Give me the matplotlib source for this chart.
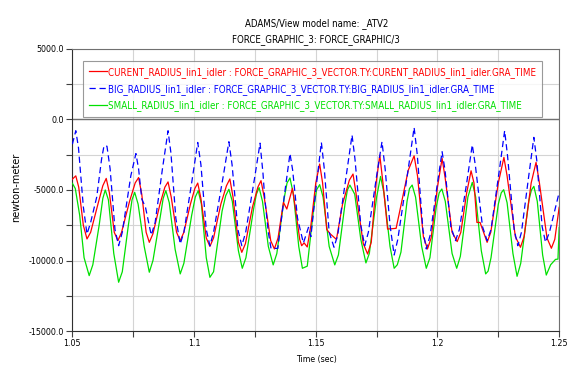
import matplotlib
matplotlib.use("Agg")
import matplotlib.pyplot as plt
from matplotlib import font_manager
from matplotlib.ticker import MultipleLocator, FormatStrFormatter

_fl = font_manager.fontManager.ttflist
_names = {f.name for f in _fl}
_cond = [f for f in _fl if f.name == 'DejaVu Sans' and 'ondensed' in f.fname and 'Bold' not in f.fname
         and 'Oblique' not in f.fname]
if 'Liberation Sans Narrow' in _names:
    plt.rcParams['font.family'] = ['Liberation Sans Narrow', 'DejaVu Sans']
    FS, LFS, TFS, YFS = 7.0, 8.0, 7.4, 8.5
elif _cond:
    plt.rcParams['font.family'] = ['DejaVu Sans']
    plt.rcParams['font.stretch'] = _cond[0].stretch
    FS, LFS, TFS, YFS = 6.3, 7.0, 6.9, 7.8
else:
    plt.rcParams['font.family'] = ['Liberation Sans', 'DejaVu Sans']
    FS, LFS, TFS, YFS = 6.3, 6.3, 6.8, 7.5

# ---- data ----
big_t = [1.0500, 1.0514, 1.0525, 1.0545, 1.0560, 1.0575, 1.0600, 1.0620, 1.0630, 1.0642,
         1.0655, 1.0675, 1.0690, 1.0705, 1.0740, 1.0761, 1.0772, 1.0785, 1.0800, 1.0824,
         1.0840, 1.0870, 1.0893, 1.0905, 1.0925, 1.0943, 1.0958, 1.0990, 1.1015, 1.1028,
         1.1050, 1.1065, 1.1080, 1.1120, 1.1143, 1.1156, 1.1180, 1.1196, 1.1212, 1.1250,
         1.1271, 1.1283, 1.1290, 1.1305, 1.1316, 1.1344, 1.1370, 1.1394, 1.1405, 1.1425,
         1.1449, 1.1470, 1.1480, 1.1500, 1.1523, 1.1535, 1.1555, 1.1575, 1.1590, 1.1625,
         1.1649, 1.1661, 1.1685, 1.1701, 1.1716, 1.1750, 1.1772, 1.1785, 1.1805, 1.1822,
         1.1837, 1.1880, 1.1904, 1.1917, 1.1940, 1.1954, 1.1970, 1.2000, 1.2019, 1.2031,
         1.2055, 1.2074, 1.2090, 1.2120, 1.2143, 1.2156, 1.2185, 1.2204, 1.2220, 1.2255,
         1.2276, 1.2288, 1.2315, 1.2330, 1.2345, 1.2375, 1.2396, 1.2408, 1.2430, 1.2444,
         1.2460, 1.2500]
big_y = [-1750, -800, -2000, -6200, -8120, -7300, -5500, -2800, -1860, -1900,
         -3500, -7800, -8950, -8000, -4000, -2420, -3500, -5640, -6200, -8200,
         -7300, -3500, -800, -2400, -7000, -8830, -8000, -4500, -1630, -3200,
         -7800, -8950, -8000, -4000, -1580, -3200, -7800, -8950, -8000, -4000,
         -1680, -3800, -5500, -8000, -9140, -9140, -5500, -2420, -3600, -7000,
         -8760, -7650, -8300, -5000, -1630, -3500, -8000, -9060, -8200, -4000,
         -1110, -2800, -7500, -8950, -8000, -4000, -1580, -3500, -7500, -9610,
         -8500, -3500, -570, -2500, -7800, -9180, -8200, -4500, -2290, -3600,
         -7600, -8590, -7800, -4500, -1800, -3300, -7600, -8590, -7800, -3500,
         -800, -2600, -7800, -8950, -8000, -4000, -1270, -2900, -7600, -8710,
         -8000, -5170]

cur_t = [1.0500, 1.0514, 1.0526, 1.0545, 1.0560, 1.0575, 1.0605, 1.0625, 1.0639, 1.0652,
         1.0672, 1.0687, 1.0702, 1.0735, 1.0758, 1.0772, 1.0785, 1.0803, 1.0816, 1.0831,
         1.0860, 1.0880, 1.0893, 1.0906, 1.0928, 1.0943, 1.0958, 1.0985, 1.1003, 1.1015,
         1.1028, 1.1050, 1.1065, 1.1080, 1.1110, 1.1133, 1.1147, 1.1160, 1.1182, 1.1196,
         1.1211, 1.1240, 1.1262, 1.1275, 1.1288, 1.1315, 1.1330, 1.1345, 1.1367, 1.1381,
         1.1404, 1.1418, 1.1434, 1.1442, 1.1452, 1.1465, 1.1480, 1.1500, 1.1516, 1.1528,
         1.1545, 1.1560, 1.1580, 1.1585, 1.1610, 1.1638, 1.1653, 1.1665, 1.1695, 1.1713,
         1.1728, 1.1748, 1.1763, 1.1776, 1.1795, 1.1830, 1.1845, 1.1880, 1.1904, 1.1918,
         1.1942, 1.1959, 1.1974, 1.2000, 1.2019, 1.2032, 1.2060, 1.2081, 1.2096, 1.2120,
         1.2138, 1.2150, 1.2162, 1.2175, 1.2204, 1.2219, 1.2250, 1.2273, 1.2286, 1.2320,
         1.2341, 1.2356, 1.2385, 1.2405, 1.2418, 1.2450, 1.2468, 1.2482, 1.2500]
cur_y = [-4230, -4000, -4800, -7500, -8470, -8000, -6000, -4700, -4180, -5200,
         -8000, -8590, -8000, -5800, -4500, -4120, -5300, -8000, -8710, -8100,
         -6000, -4800, -4430, -5500, -8000, -8590, -8000, -6000, -4900, -4510,
         -5600, -8400, -9000, -8400, -6000, -4700, -4220, -5500, -8700, -9420,
         -8800, -6200, -4800, -4340, -5500, -8600, -9180, -8400, -5880, -6350,
         -4890, -6500, -8500, -8950, -8750, -9040, -7500, -4500, -3160, -4500,
         -7800, -8120, -8430, -8500, -6000, -4300, -3870, -5200, -8800, -9540,
         -8700, -4500, -2530, -4500, -7770, -7720, -6500, -3600, -2580, -4000,
         -8300, -9180, -8400, -4800, -2760, -4200, -8000, -8660, -8000, -5200,
         -3640, -4500, -7300, -7300, -8710, -8000, -4500, -2690, -4000, -8300,
         -9060, -8300, -4500, -3040, -4400, -8400, -9130, -8500, -6230]

small_t = [1.0500, 1.0512, 1.0530, 1.0548, 1.0569, 1.0584, 1.0610, 1.0625, 1.0635, 1.0648,
           1.0670, 1.0690, 1.0705, 1.0730, 1.0745, 1.0756, 1.0770, 1.0795, 1.0816, 1.0831,
           1.0860, 1.0873, 1.0884, 1.0898, 1.0922, 1.0943, 1.0958, 1.0990, 1.1005, 1.1017,
           1.1030, 1.1050, 1.1065, 1.1080, 1.1115, 1.1130, 1.1143, 1.1157, 1.1182, 1.1198,
           1.1213, 1.1245, 1.1256, 1.1267, 1.1281, 1.1305, 1.1325, 1.1340, 1.1370, 1.1382,
           1.1394, 1.1408, 1.1430, 1.1445, 1.1465, 1.1490, 1.1503, 1.1516, 1.1530, 1.1555,
           1.1578, 1.1593, 1.1620, 1.1630, 1.1640, 1.1660, 1.1685, 1.1706, 1.1720, 1.1750,
           1.1766, 1.1780, 1.1805, 1.1822, 1.1835, 1.1850, 1.1875, 1.1885, 1.1896, 1.1910,
           1.1935, 1.1954, 1.1969, 1.1995, 1.2007, 1.2018, 1.2032, 1.2060, 1.2079, 1.2094,
           1.2125, 1.2143, 1.2157, 1.2180, 1.2198, 1.2208, 1.2220, 1.2250, 1.2262, 1.2272,
           1.2286, 1.2310, 1.2327, 1.2342, 1.2375, 1.2386, 1.2396, 1.2410, 1.2432, 1.2447,
           1.2465, 1.2485, 1.2495, 1.2500]
small_y = [-4530, -4900, -6800, -9800, -11070, -10300, -7500, -5600, -5000, -5700,
           -9500, -11540, -10800, -7500, -5700, -5170, -6000, -9000, -10830, -10000,
           -7000, -5600, -5050, -5900, -9200, -10950, -10200, -6800, -5500, -5050,
           -6000, -9800, -11190, -10800, -6500, -5400, -4950, -5800, -9300, -10550,
           -9800, -6300, -5300, -4830, -5800, -9000, -10310, -9500, -5600, -4500,
           -4150, -5300, -9000, -10550, -10400, -6500, -5000, -4620, -5500, -9000,
           -10310, -9600, -6000, -5000, -4650, -5300, -8500, -10170, -9500, -5500,
           -4040, -5200, -9000, -10550, -10300, -9400, -5800, -4900, -4650, -5500,
           -9000, -10550, -9800, -6200, -5200, -4930, -5800, -9500, -10550, -9700,
           -5500, -4460, -5500, -9300, -10950, -10750, -9800, -6000, -5200, -4980,
           -5900, -9500, -11120, -10200, -5800, -5000, -4740, -5800, -9600, -11030,
           -10300, -9920, -9900, -7650]

labels = ["CURENT_RADIUS_lin1_idler : FORCE_GRAPHIC_3_VECTOR.TY:CURENT_RADIUS_lin1_idler.GRA_TIME",
          "BIG_RADIUS_lin1_idler : FORCE_GRAPHIC_3_VECTOR.TY:BIG_RADIUS_lin1_idler.GRA_TIME",
          "SMALL_RADIUS_lin1_idler : FORCE_GRAPHIC_3_VECTOR.TY:SMALL_RADIUS_lin1_idler.GRA_TIME"]
colors = ["#ff0000", "#0000ff", "#00e000"]

fig = plt.figure(figsize=(5.7, 3.65), dpi=100)
ax = fig.add_axes([0.127, 0.093, 0.854, 0.773])

l_small, = ax.plot(small_t, small_y, color=colors[2], lw=0.9, zorder=3)
l_cur, = ax.plot(cur_t, cur_y, color=colors[0], lw=0.9, zorder=4)
l_big, = ax.plot(big_t, big_y, color=colors[1], lw=0.9, ls=(0, (5, 3)), zorder=5)

ax.set_xlim(1.05, 1.25)
ax.set_ylim(-15000, 5000)
ax.xaxis.set_minor_locator(MultipleLocator(0.025))
ax.yaxis.set_major_locator(MultipleLocator(5000))
ax.yaxis.set_minor_locator(MultipleLocator(2500))
ax.yaxis.set_major_formatter(FormatStrFormatter('%.1f'))
ax.set_xticks([1.05, 1.1, 1.15, 1.2, 1.25])
ax.set_xticklabels(["1.05", "1.1", "1.15", "1.2", "1.25"])

ax.grid(True, which='both', color='#d4d4d4', lw=0.8, zorder=0)
ax.set_axisbelow(True)
ax.axhline(0, color='#707070', lw=1.0, zorder=1)

ax.tick_params(which='both', direction='out', length=4, width=0.8, color='#404040',
               labelsize=FS, pad=2)
for s in ['top', 'right']:
    ax.spines[s].set_color('#707070')
for s in ['left', 'bottom']:
    ax.spines[s].set_color('#303030')

ax.set_ylabel("newton-meter", fontsize=YFS)
ax.yaxis.set_label_coords(-0.105, 0.51)
fig.text(0.555, 1 - 355 / 365, "Time (sec)", ha='center', va='top', fontsize=FS)

fig.text(0.555, 0.935, "ADAMS/View model name: _ATV2", ha='center', va='center', fontsize=TFS)
fig.text(0.555, 0.893, "FORCE_GRAPHIC_3: FORCE_GRAPHIC/3", ha='center', va='center', fontsize=TFS)

leg = ax.legend([l_cur, l_big, l_small], labels, loc='upper left',
                bbox_to_anchor=(0.0216, 0.957), fontsize=LFS, frameon=True, fancybox=False,
                handlelength=1.9, handletextpad=0.05, borderpad=0.6, labelspacing=0.6,
                borderaxespad=0)
leg.get_frame().set_edgecolor('#808080')
leg.get_frame().set_linewidth(0.8)
for txt, c in zip(leg.get_texts(), colors):
    txt.set_color(c)

fig.savefig("out.png", dpi=100)
